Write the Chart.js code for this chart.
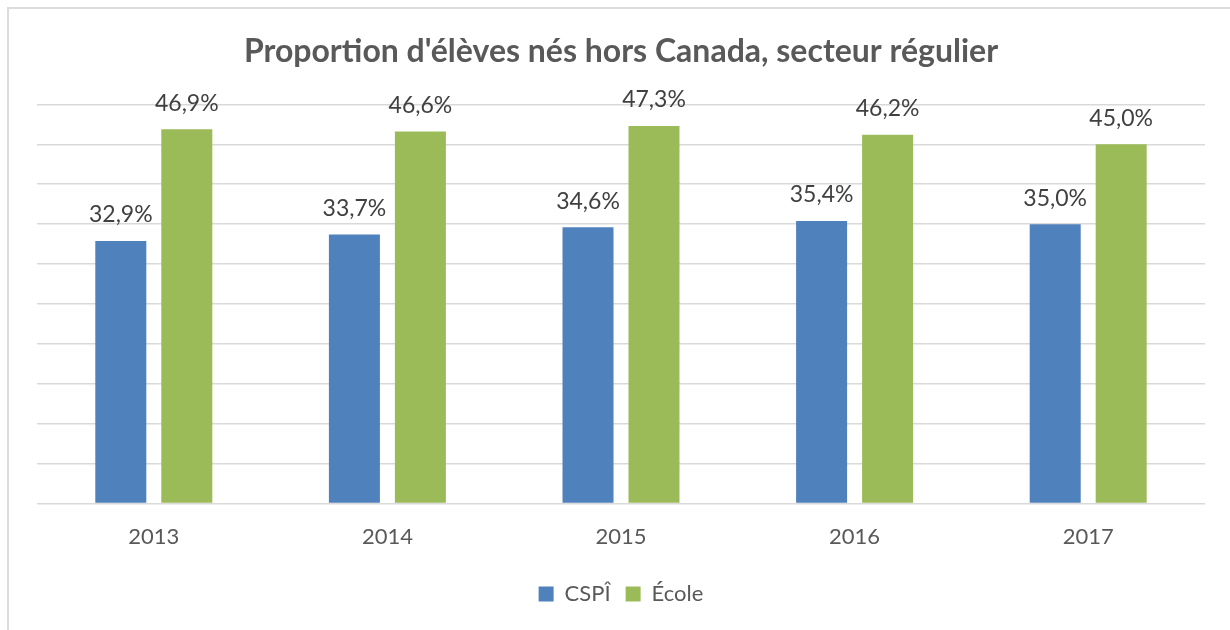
<!DOCTYPE html>
<html>
<head>
<meta charset="utf-8">
<script src="https://cdn.jsdelivr.net/npm/chart.js@4"></script>
<style>
  html, body { margin: 0; padding: 0; background: #fff; overflow: hidden; }
  #wrap { position: relative; width: 1230px; height: 630px; }
  #frame { position: absolute; left: 7px; top: 7px; width: 1240px; height: 640px; border-top: 2px solid #dcdcdc; border-left: 2px solid #dcdcdc; }
  #chart { position: absolute; left: 0; top: 0; }
</style>
</head>
<body>
<div id="wrap">
  <div id="frame"></div>
  <canvas id="chart" width="1230" height="630"></canvas>
</div>
<script>
const years = ['2013', '2014', '2015', '2016', '2017'];
const cspi = [32.9, 33.7, 34.6, 35.4, 35.0];
const ecole = [46.9, 46.6, 47.3, 46.2, 45.0];
const yTicks = [0, 5, 10, 15, 20, 25, 30, 35, 40, 45, 50];

const font = 'Lato, "Open Sans", sans-serif';

const valueLabels = {
    id: 'valueLabels',
    afterDatasetsDraw(chart) {
        const c = chart.ctx;
        c.save();
        c.font = '23px ' + font;
        c.fillStyle = '#404040';
        c.textAlign = 'center';
        c.textBaseline = 'middle';
        chart.data.datasets.forEach(function(ds, i) {
            chart.getDatasetMeta(i).data.forEach(function(bar, j) {
                const txt = ds.data[j].toFixed(1).replace('.', ',') + '%';
                c.fillText(txt, bar.x, bar.y - 26);
            });
        });
        c.restore();
    }
};

new Chart(document.getElementById('chart'), {
    type: 'bar',
    data: {
        labels: years,
        datasets: [
            {
                label: 'CSPÎ',
                data: cspi,
                backgroundColor: '#4f81bd',
                categoryPercentage: 0.565,
                barPercentage: 0.773
            },
            {
                label: 'École',
                data: ecole,
                backgroundColor: '#9bbb59',
                categoryPercentage: 0.565,
                barPercentage: 0.773
            }
        ]
    },
    options: {
        responsive: false,
        animation: false,
        layout: {
            padding: { left: 37, right: 25, top: 0, bottom: 15 }
        },
        scales: {
            x: {
                grid: { display: false },
                border: { display: false },
                afterFit: function(axis) { axis.height += 6; },
                ticks: {
                    color: '#595959',
                    font: { size: 22, family: font },
                    padding: 12
                }
            },
            y: {
                min: 0,
                max: 50,
                afterBuildTicks: function(axis) {
                    axis.ticks = yTicks.map(function(v) { return { value: v }; });
                },
                grid: { color: '#d9d9d9', lineWidth: 1.5, drawTicks: false },
                border: { display: false },
                ticks: { display: false }
            }
        },
        plugins: {
            title: {
                display: true,
                text: "Proportion d'élèves nés hors Canada, secteur régulier",
                color: '#595959',
                font: { size: 32, weight: 'bold', family: font },
                padding: { top: 32, bottom: 34 }
            },
            legend: {
                position: 'bottom',
                labels: {
                    color: '#595959',
                    font: { size: 22, family: font },
                    boxWidth: 15,
                    boxHeight: 15,
                    padding: 15
                }
            },
            tooltip: { enabled: false }
        }
    },
    plugins: [valueLabels]
});
</script>
</body>
</html>
